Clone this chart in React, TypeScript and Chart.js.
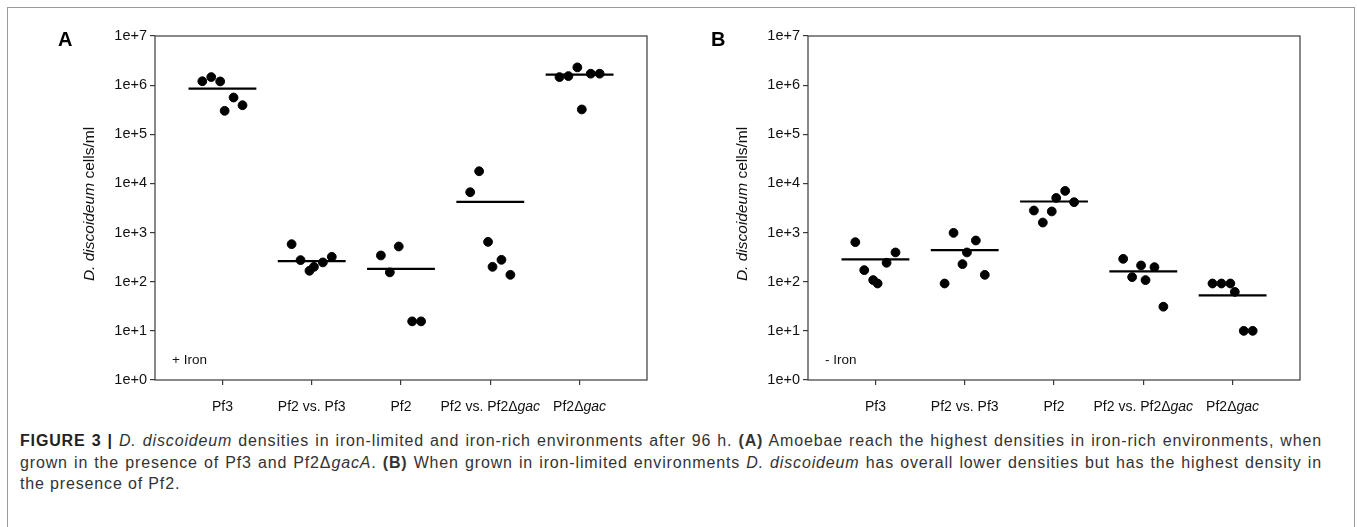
import React, { useEffect, useRef } from "react";
import { Chart, registerables } from "chart.js";

Chart.register(...registerables);

// ---------- data ----------
const categories = ["Pf3", "Pf2 vs. Pf3", "Pf2", "Pf2 vs. Pf2Δgac", "Pf2Δgac"];
const yTickValues = [1, 10, 100, 1e3, 1e4, 1e5, 1e6, 1e7];
const yTickLabels = ["1e+0", "1e+1", "1e+2", "1e+3", "1e+4", "1e+5", "1e+6", "1e+7"];

// horizontal jitter of the dots inside each group (category units)
const jitterSix = [-0.225, -0.125, -0.025, 0.025, 0.125, 0.225];
const jitterFive = [-0.225, -0.125, -0.025, 0.125, 0.225];

// Panel A : + Iron
const ironPf3 = [1.2e6, 1.46e6, 1.19e6, 3.0e5, 5.6e5, 3.9e5];
const ironPf2vsPf3 = [581, 275, 167, 201, 247, 321];
const ironPf2 = [342, 155, 521, 15.6, 15.6];
const ironPf2vsGac = [6620, 17700, 647, 201, 279, 138];
const ironGac = [1.46e6, 1.53e6, 2.3e6, 3.2e5, 1.71e6, 1.71e6];
const ironMeans = [8.5e5, 262, 183, 4200, 1.63e6];

// Panel B : - Iron
const noIronPf3 = [638, 172, 108, 92, 243, 394];
const noIronPf2vsPf3 = [92, 986, 228, 394, 690, 138];
const noIronPf2 = [2810, 1600, 2690, 5070, 7040, 4150];
const noIronPf2vsGac = [292, 124, 214, 108, 198, 31];
const noIronGac = [92, 92, 92, 62, 10, 10];
const noIronMeans = [284, 439, 4290, 162, 52.7];

const FONT = "'Liberation Sans', Arial, Helvetica, sans-serif";
const AXIS = "#3a3a3a";

type PanelProps = {
  letter: string;
  condition: string;
  groups: number[][];
  offsets: number[][];
  means: number[];
  left: number;
};

const W = 670;
const H = 430;

function drawParts(
  ctx: CanvasRenderingContext2D,
  parts: { t: string; it: boolean }[],
  size: number,
  x: number,
  y: number,
  align: "center" | "left"
) {
  const widths = parts.map((p) => {
    ctx.font = `${p.it ? "italic " : ""}${size}px ${FONT}`;
    return ctx.measureText(p.t).width;
  });
  const total = widths.reduce((a, b) => a + b, 0);
  let cx = align === "center" ? x - total / 2 : x;
  ctx.textAlign = "left";
  parts.forEach((p, i) => {
    ctx.font = `${p.it ? "italic " : ""}${size}px ${FONT}`;
    ctx.fillText(p.t, cx, y);
    cx += widths[i];
  });
}

function labelParts(label: string) {
  const idx = label.indexOf("Δ");
  if (idx < 0) return [{ t: label, it: false }];
  return [
    { t: label.slice(0, idx + 1), it: false },
    { t: label.slice(idx + 1), it: true },
  ];
}

function Panel({ letter, condition, groups, offsets, means, left }: PanelProps) {
  const ref = useRef<HTMLCanvasElement | null>(null);

  useEffect(() => {
    if (!ref.current) return;
    const pts: { x: number; y: number }[] = [];
    groups.forEach((vals, gi) => {
      vals.forEach((v, j) => pts.push({ x: gi + offsets[gi][j], y: v }));
    });
    const meanSets = means.map((m, gi) => ({
      type: "line" as const,
      data: [
        { x: gi - 0.38, y: m },
        { x: gi + 0.38, y: m },
      ],
      borderColor: "#000",
      borderWidth: 2.2,
      pointRadius: 0,
      showLine: true,
      fill: false,
    }));

    const deco = {
      id: "deco",
      afterDraw(chart: any) {
        const ctx: CanvasRenderingContext2D = chart.ctx;
        const { left: l, right: r, top: t, bottom: b } = chart.chartArea;
        ctx.save();
        ctx.strokeStyle = AXIS;
        ctx.lineWidth = 1.2;
        ctx.strokeRect(l, t, r - l, b - t);
        ctx.fillStyle = "#111";
        ctx.textBaseline = "middle";
        // x labels
        const xs = chart.scales.x;
        categories.forEach((c, i) => {
          drawParts(ctx, labelParts(c), 14, xs.getPixelForValue(i), b + 27, "center");
        });
        // condition text
        drawParts(ctx, [{ t: condition, it: false }], 13.5, l + 17, b - 20, "left");
        // y title
        ctx.save();
        ctx.translate(90, (t + b) / 2 - 4);
        ctx.rotate(-Math.PI / 2);
        drawParts(
          ctx,
          [
            { t: "D. discoideum", it: true },
            { t: " cells/ml", it: false },
          ],
          15.5,
          0,
          0,
          "center"
        );
        ctx.restore();
        // panel letter
        ctx.font = `bold 20px ${FONT}`;
        ctx.fillStyle = "#000";
        ctx.textAlign = "left";
        ctx.fillText(letter, 58, 40);
        ctx.restore();
      },
    };

    const chart = new Chart(ref.current, {
      type: "scatter",
      data: {
        datasets: [
          {
            data: pts,
            backgroundColor: "#000",
            borderColor: "#000",
            pointRadius: 4.4,
            pointHoverRadius: 4.4,
          } as any,
          ...(meanSets as any[]),
        ],
      },
      options: {
        responsive: false,
        animation: false,
        devicePixelRatio: 1,
        layout: { padding: { top: 36, right: 23, left: 0, bottom: 0 } },
        plugins: { legend: { display: false }, tooltip: { enabled: false } },
        scales: {
          x: {
            type: "linear",
            min: -0.755,
            max: 4.755,
            afterBuildTicks: (s: any) => {
              s.ticks = categories.map((_, i) => ({ value: i }));
            },
            afterFit: (s: any) => {
              s.height = 50;
            },
            ticks: { display: false },
            grid: { drawOnChartArea: false, drawTicks: true, tickLength: 5, color: AXIS, lineWidth: 1.2 },
            border: { display: false },
          },
          y: {
            type: "logarithmic",
            min: 1,
            max: 1e7,
            afterBuildTicks: (s: any) => {
              s.ticks = yTickValues.map((v) => ({ value: v, major: true }));
            },
            afterFit: (s: any) => {
              s.width = 155;
            },
            ticks: {
              autoSkip: false,
              padding: 3,
              color: "#111",
              font: { family: FONT, size: 14.5 },
              callback: (_v: any, i: number) => yTickLabels[i],
            },
            grid: { drawOnChartArea: false, drawTicks: true, tickLength: 5, color: AXIS, lineWidth: 1.2 },
            border: { display: false },
          },
        },
      } as any,
      plugins: [deco],
    });
    return () => chart.destroy();
  }, []);

  return (
    <canvas
      ref={ref}
      width={W}
      height={H}
      style={{ position: "absolute", left, top: 0, width: W, height: H }}
    />
  );
}

const justLine: React.CSSProperties = { textAlign: "justify", textAlignLast: "justify" as any, whiteSpace: "normal" };

export default function App() {
  return (
    <div style={{ position: "absolute", left: 0, top: 0, width: 1357, height: 527, overflow: "hidden", background: "#fff" }}>
      <div
        style={{
          position: "absolute",
          left: 7,
          top: 7,
          width: 1348,
          height: 560,
          border: "1px solid #9a9a9a",
          boxSizing: "border-box",
        }}
      />
      <Panel
        letter="A"
        condition="+ Iron"
        groups={[ironPf3, ironPf2vsPf3, ironPf2, ironPf2vsGac, ironGac]}
        offsets={[jitterSix, jitterSix, jitterFive, jitterSix, jitterSix]}
        means={ironMeans}
        left={0}
      />
      <Panel
        letter="B"
        condition="- Iron"
        groups={[noIronPf3, noIronPf2vsPf3, noIronPf2, noIronPf2vsGac, noIronGac]}
        offsets={[jitterSix, jitterSix, jitterSix, jitterSix, jitterSix]}
        means={noIronMeans}
        left={653}
      />
      <div
        style={{
          position: "absolute",
          left: 20,
          top: 430,
          width: 1302,
          fontFamily: FONT,
          fontSize: 16,
          letterSpacing: "0.85px",
          lineHeight: "21.5px",
          color: "#333",
        }}
      >
        <div style={justLine}>
          <b style={{ color: "#222" }}>FIGURE 3 |</b> <i>D. discoideum</i> densities in iron-limited and iron-rich environments after 96 h. <b>(A)</b> Amoebae reach the highest densities in iron-rich environments, when
        </div>
        <div style={justLine}>
          grown in the presence of Pf3 and Pf2Δ<i>gacA</i>. <b>(B)</b> When grown in iron-limited environments <i>D. discoideum</i> has overall lower densities but has the highest density in
        </div>
        <div style={{ whiteSpace: "nowrap" }}>the presence of Pf2.</div>
      </div>
    </div>
  );
}
